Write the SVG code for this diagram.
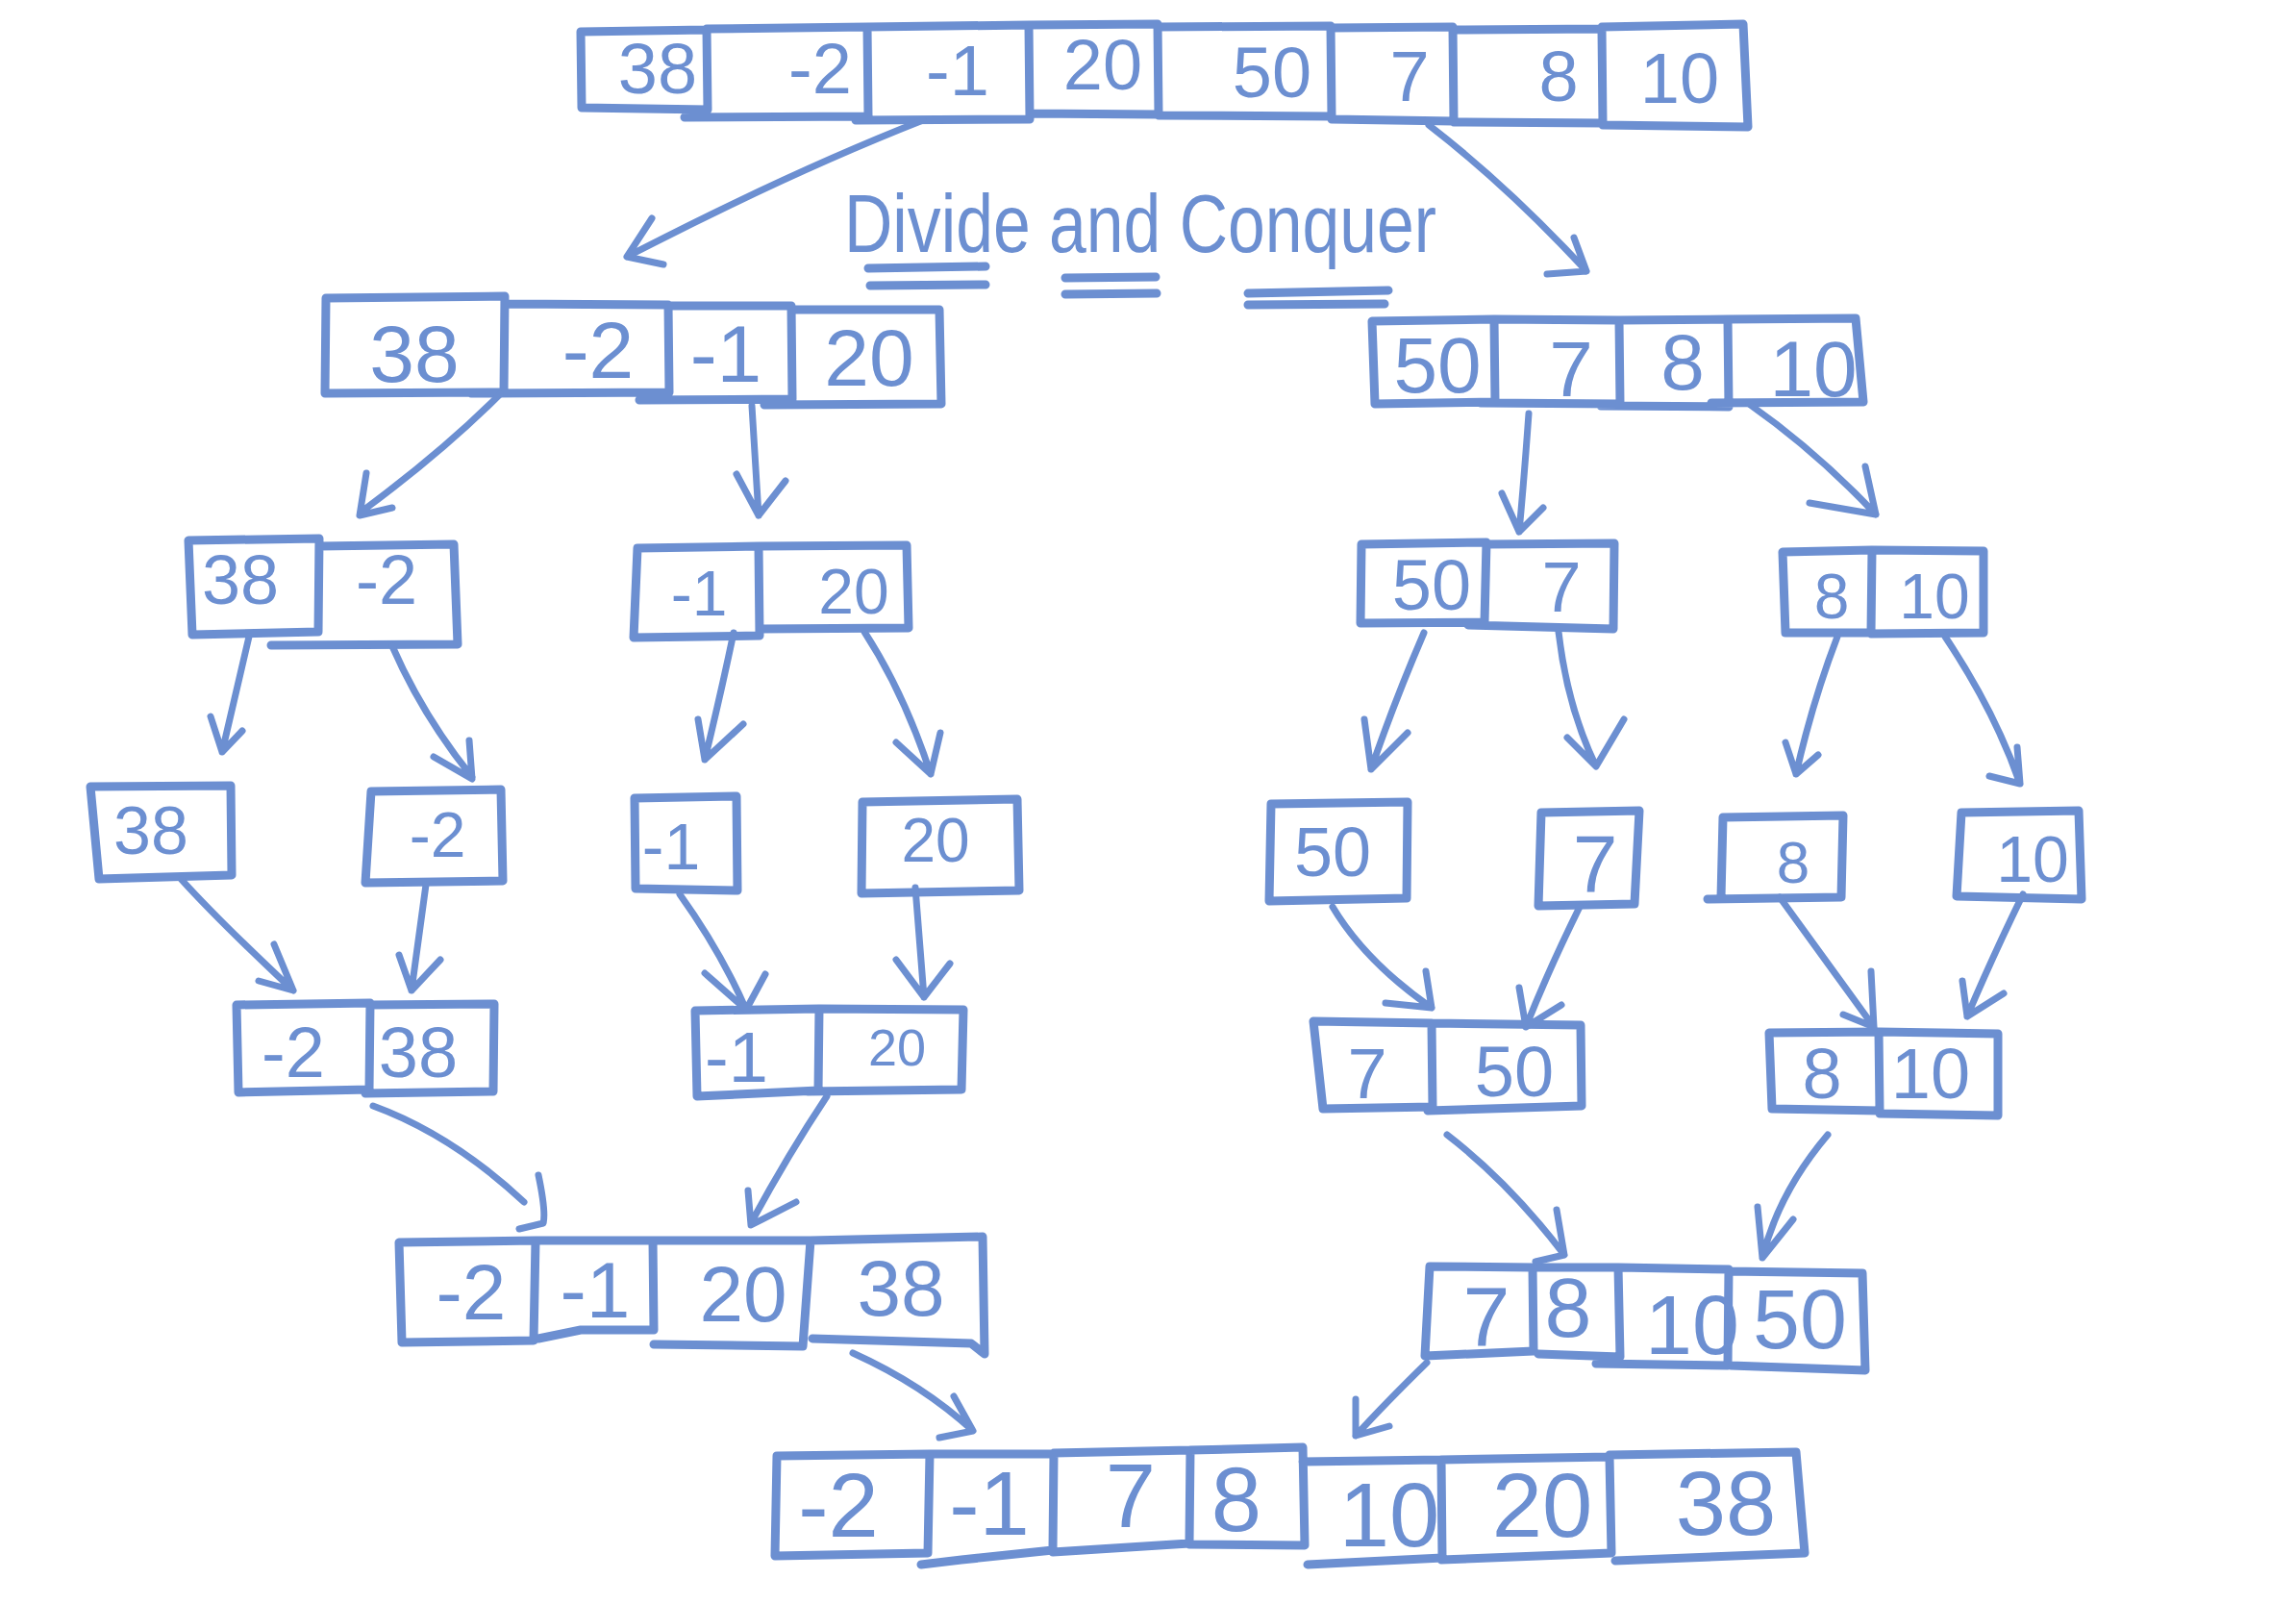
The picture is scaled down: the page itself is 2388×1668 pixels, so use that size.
<svg xmlns="http://www.w3.org/2000/svg" width="2388" height="1668" viewBox="0 0 2388 1668">
<style>
.s{fill:none;stroke:#6c8fd1;stroke-width:9;stroke-linecap:round;stroke-linejoin:round}
.a{fill:none;stroke:#6c8fd1;stroke-width:7;stroke-linecap:round;stroke-linejoin:round}
.t{fill:#6c8fd1;font-family:"Liberation Sans",Arial,sans-serif;text-anchor:middle}
.h{fill:#6c8fd1;font-family:"Liberation Sans",Arial,sans-serif}
</style>
<rect width="2388" height="1668" fill="#ffffff"/>

<g id="title">
<text class="h" x="878" y="262" font-size="86" textLength="616" lengthAdjust="spacingAndGlyphs">Divide and Conquer</text>
<path class="s" d="M903,279 L1025,277 M905,297 L1025,296 M1108,289 L1202,288 M1108,306 L1203,305 M1298,305 L1444,302 M1298,317 L1440,316"/>
</g>

<g id="n1">
<path class="s" d="M604,33 L735,31 L736,114 L605,112 Z M735,30 L902,28 L903,121 L712,122 M902,28 L1070,26 L1071,124 L890,125 M1070,26 L1204,25 L1205,119 L1071,118 M1204,28 L1384,27 L1385,121 L1205,120 M1384,29 L1511,28 L1512,126 L1385,124 M1511,31 L1666,30 L1667,128 L1512,127 M1666,28 L1813,25 L1818,132 L1667,130"/>
<text class="t" font-size="74" x="684" y="97">38</text>
<text class="t" font-size="74" x="853" y="97">-2</text>
<text class="t" font-size="74" x="996" y="99">-1</text>
<text class="t" font-size="74" x="1147" y="93">20</text>
<text class="t" font-size="74" x="1323" y="101">50</text>
<text class="t" font-size="74" x="1466" y="105">7</text>
<text class="t" font-size="74" x="1621" y="105">8</text>
<text class="t" font-size="74" x="1747" y="107">10</text>
</g>

<g id="n2l">
<path class="s" d="M339,310 L525,308 L524,408 L338,409 Z M525,316 L695,317 L696,408 L490,409 M695,318 L823,318 L824,415 L665,416 M823,322 L977,322 L979,420 L795,421"/>
<text class="t" font-size="84" x="431" y="397">38</text>
<text class="t" font-size="84" x="622" y="393">-2</text>
<text class="t" font-size="84" x="755" y="397">-1</text>
<text class="t" font-size="84" x="904" y="401">20</text>
</g>

<g id="n2r">
<path class="s" d="M1427,334 L1554,332 L1555,418 L1430,420 Z M1554,332 L1684,333 L1685,420 L1540,419 M1684,333 L1797,332 L1798,423 L1665,422 M1797,332 L1930,331 L1938,418 L1780,419"/>
<text class="t" font-size="82" x="1495" y="408">50</text>
<text class="t" font-size="82" x="1634" y="412">7</text>
<text class="t" font-size="82" x="1750" y="405">8</text>
<text class="t" font-size="82" x="1886" y="412">10</text>
</g>

<g id="n3a">
<path class="s" d="M196,562 L332,560 L331,657 L200,660 Z M332,568 L472,566 L476,670 L282,671"/>
<text class="t" font-size="72" x="250" y="628">38</text>
<text class="t" font-size="72" x="402" y="628">-2</text>
</g>

<g id="n3b">
<path class="s" d="M663,570 L789,568 L790,661 L659,663 Z M789,568 L943,567 L945,653 L790,654"/>
<text class="t" font-size="66" x="727" y="640">-1</text>
<text class="t" font-size="66" x="888" y="638">20</text>
</g>

<g id="n3c">
<path class="s" d="M1416,566 L1546,564 L1544,647 L1415,648 Z M1546,566 L1679,565 L1678,654 L1527,650"/>
<text class="t" font-size="74" x="1489" y="634">50</text>
<text class="t" font-size="74" x="1624" y="636">7</text>
</g>

<g id="n3d">
<path class="s" d="M1854,574 L1947,572 L1946,658 L1857,658 Z M1947,572 L2063,573 L2063,658 L1946,659"/>
<text class="t" font-size="66" x="1905" y="643">8</text>
<text class="t" font-size="66" x="2012" y="643">10</text>
</g>

<g id="n4a">
<path class="s" d="M94,818 L240,817 L241,910 L103,914 Z"/>
<text class="t" font-size="70" x="157" y="888">38</text>
</g>
<g id="n4b">
<path class="s" d="M386,823 L521,821 L523,916 L380,918 Z"/>
<text class="t" font-size="66" x="455" y="891">-2</text>
</g>
<g id="n4c">
<path class="s" d="M660,830 L766,828 L767,926 L661,924 Z"/>
<text class="t" font-size="68" x="698" y="904">-1</text>
</g>
<g id="n4d">
<path class="s" d="M897,834 L1058,831 L1060,926 L896,929 Z"/>
<text class="t" font-size="64" x="973" y="896">20</text>
</g>
<g id="n4e">
<path class="s" d="M1322,836 L1464,834 L1463,934 L1320,937 Z"/>
<text class="t" font-size="72" x="1386" y="911">50</text>
</g>
<g id="n4f">
<path class="s" d="M1603,845 L1705,843 L1700,940 L1600,942 Z"/>
<text class="t" font-size="84" x="1659" y="927">7</text>
</g>
<g id="n4g">
<path class="s" d="M1792,850 L1917,848 L1915,933 L1776,935 M1792,850 L1790,933"/>
<text class="t" font-size="62" x="1865" y="918">8</text>
</g>
<g id="n4h">
<path class="s" d="M2040,845 L2162,843 L2165,935 L2035,932 Z"/>
<text class="t" font-size="68" x="2114" y="917">10</text>
</g>

<g id="n5a">
<path class="s" d="M246,1045 L385,1043 L384,1133 L248,1136 Z M385,1045 L514,1044 L513,1135 L380,1137"/>
<text class="t" font-size="74" x="305" y="1120">-2</text>
<text class="t" font-size="74" x="435" y="1120">38</text>
</g>
<g id="n5b">
<path class="s" d="M723,1051 L852,1049 L851,1134 L725,1140 Z M852,1049 L1002,1050 L1000,1133 L840,1135"/>
<text class="t" font-size="74" x="766" y="1125">-1</text>
<text class="t" font-size="54" x="933" y="1108">20</text>
</g>
<g id="n5c">
<path class="s" d="M1366,1062 L1489,1064 L1490,1151 L1376,1153 Z M1489,1064 L1644,1066 L1645,1150 L1485,1155"/>
<text class="t" font-size="74" x="1422" y="1142">7</text>
<text class="t" font-size="74" x="1575" y="1140">50</text>
</g>
<g id="n5d">
<path class="s" d="M1840,1074 L1954,1073 L1955,1155 L1843,1153 Z M1954,1073 L2078,1075 L2078,1160 L1955,1158"/>
<text class="t" font-size="74" x="1895" y="1142">8</text>
<text class="t" font-size="74" x="2008" y="1142">10</text>
</g>

<g id="n6l">
<path class="s" d="M415,1292 L557,1290 L555,1394 L418,1396 Z M557,1290 L679,1290 L680,1383 L604,1383 L560,1392 M679,1290 L843,1290 L835,1400 L680,1398 M843,1290 L1022,1286 L1024,1408 L1010,1397 L845,1392"/>
<text class="t" font-size="82" x="490" y="1372">-2</text>
<text class="t" font-size="82" x="619" y="1370">-1</text>
<text class="t" font-size="82" x="773" y="1374">20</text>
<text class="t" font-size="82" x="937" y="1368">38</text>
</g>
<g id="n6r">
<path class="s" d="M1487,1317 L1594,1318 L1595,1405 L1482,1410 Z M1594,1318 L1683,1318 L1685,1411 L1600,1408 M1683,1318 L1798,1320 L1797,1420 L1660,1418 M1798,1322 L1937,1324 L1940,1425 L1800,1420"/>
<text class="t" font-size="88" x="1546" y="1400">7</text>
<text class="t" font-size="88" x="1631" y="1390">8</text>
<text class="t" font-size="88" x="1760" y="1408">10</text>
<text class="t" font-size="88" x="1872" y="1402">50</text>
</g>

<g id="n7">
<path class="s" d="M808,1514 L967,1512 L965,1615 L806,1618 Z M967,1512 L1096,1512 L1095,1612 L1000,1622 L958,1627 M1096,1511 L1238,1508 L1237,1605 L1095,1614 M1238,1508 L1355,1505 L1357,1607 L1237,1606 M1355,1520 L1499,1518 L1500,1620 L1360,1627 M1499,1518 L1674,1515 L1676,1615 L1499,1622 M1674,1513 L1868,1510 L1877,1615 L1680,1623"/>
<text class="t" font-size="94" x="872" y="1598">-2</text>
<text class="t" font-size="94" x="1029" y="1596">-1</text>
<text class="t" font-size="94" x="1176" y="1588">7</text>
<text class="t" font-size="94" x="1286" y="1592">8</text>
<text class="t" font-size="94" x="1445" y="1608">10</text>
<text class="t" font-size="94" x="1604" y="1598">20</text>
<text class="t" font-size="94" x="1795" y="1596">38</text>
</g>

<g id="connectors">
<path class="a" d="M960,125 Q820,180 652,267 M678,227 L652,267 L690,275"/>
<path class="a" d="M1486,130 Q1570,195 1650,282 M1637,247 L1650,282 L1609,285"/>
<path class="a" d="M520,410 Q460,470 376,532 M381,492 L374,536 L408,528"/>
<path class="a" d="M782,422 L789,536 M766,493 L789,536 L817,500"/>
<path class="a" d="M1590,430 Q1585,500 1580,553 M1562,513 L1580,553 L1605,528"/>
<path class="a" d="M1819,420 Q1890,470 1951,535 M1940,485 L1951,535 L1882,523"/>
<path class="a" d="M259,662 L231,782 M219,745 L231,782 L252,760"/>
<path class="a" d="M408,672 Q440,745 491,808 M451,787 L491,810 L488,770"/>
<path class="a" d="M763,658 Q750,720 733,790 M726,748 L733,790 L773,753"/>
<path class="a" d="M899,657 Q940,720 968,805 M932,772 L968,805 L978,762"/>
<path class="a" d="M1481,658 Q1450,730 1426,800 M1419,748 L1426,800 L1464,762"/>
<path class="a" d="M1621,657 Q1630,735 1660,797 M1630,767 L1660,797 L1689,748"/>
<path class="a" d="M1911,662 Q1885,730 1868,805 M1857,772 L1868,805 L1891,785"/>
<path class="a" d="M2023,662 Q2075,740 2101,815 M2098,777 L2101,815 L2069,807"/>
<path class="a" d="M189,915 Q230,960 305,1030 M285,982 L305,1030 L269,1020"/>
<path class="a" d="M443,920 L428,1030 M415,993 L428,1030 L458,998"/>
<path class="a" d="M707,930 Q750,990 776,1050 M733,1012 L776,1050 L796,1013"/>
<path class="a" d="M952,923 L961,1037 M932,998 L961,1037 L988,1002"/>
<path class="a" d="M1386,943 Q1420,1000 1489,1048 M1483,1010 L1489,1048 L1441,1043"/>
<path class="a" d="M1643,943 Q1610,1010 1587,1068 M1580,1027 L1587,1068 L1624,1045"/>
<path class="a" d="M1851,933 L1949,1068 M1946,1010 L1949,1068 L1917,1055"/>
<path class="a" d="M2104,930 Q2070,1000 2046,1057 M2041,1020 L2046,1057 L2084,1033"/>
<path class="a" d="M388,1150 Q470,1180 545,1250 M560,1222 Q568,1260 565,1272 L540,1278"/>
<path class="a" d="M860,1140 Q820,1200 781,1272 M778,1238 L781,1274 L828,1250"/>
<path class="a" d="M1505,1180 Q1570,1230 1627,1305 M1619,1258 L1627,1305 L1597,1312"/>
<path class="a" d="M1901,1180 Q1850,1240 1833,1308 M1828,1255 L1833,1308 L1865,1268"/>
<path class="a" d="M887,1407 Q960,1440 1012,1488 M992,1452 L1012,1488 L977,1495"/>
<path class="a" d="M1484,1417 Q1440,1460 1410,1493 M1410,1455 L1410,1493 L1445,1483"/>
</g>
</svg>
